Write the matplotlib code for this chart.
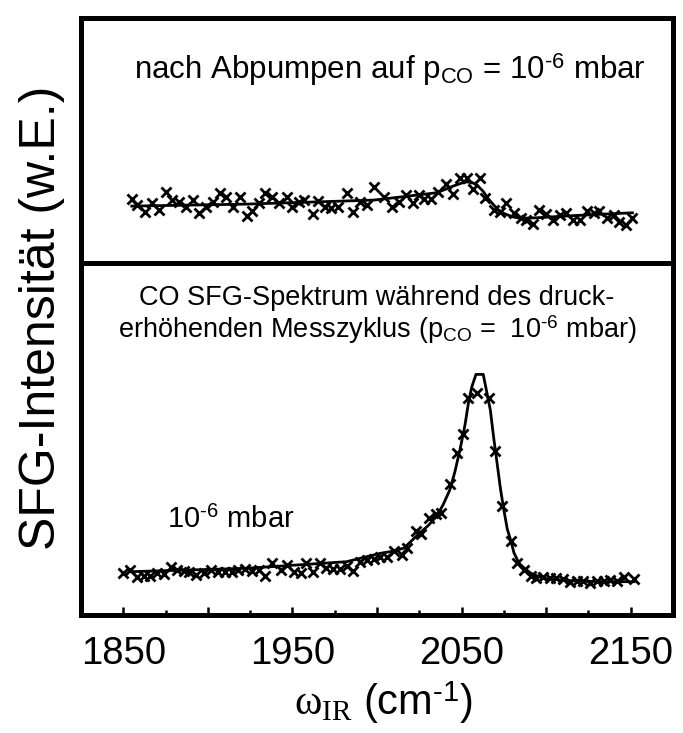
import matplotlib
matplotlib.use('Agg')
from matplotlib import pyplot as plt
from matplotlib.ticker import MultipleLocator, FuncFormatter

plt.rcParams['font.family'] = ['Liberation Sans', 'DejaVu Sans']
plt.rcParams['mathtext.fontset'] = 'custom'
plt.rcParams['mathtext.rm'] = 'Liberation Sans'
plt.rcParams['mathtext.it'] = 'Liberation Serif'

# oben: nach Abpumpen auf 1e-6 mbar
x_oben = [1855, 1858, 1863, 1867, 1871, 1875, 1879, 1883, 1887, 1891, 1895, 1899,
          1903, 1907, 1911, 1915, 1919, 1923, 1926, 1930, 1934, 1938, 1942, 1947,
          1950, 1954, 1957, 1962, 1965, 1969, 1973, 1977, 1982, 1986, 1990, 1994,
          1998, 2004, 2009, 2013, 2017, 2021, 2025, 2028, 2032, 2036, 2041, 2045,
          2049, 2053, 2057, 2061, 2064, 2069, 2073, 2076, 2081, 2085, 2088, 2092,
          2096, 2100, 2104, 2108, 2112, 2116, 2120, 2124, 2128, 2131, 2136, 2140,
          2143, 2147, 2151]
y_oben = [63.7, 58, 51.3, 59.7, 53, 70.7, 63, 61.3, 56.3, 63, 50.3, 56.3,
          61.3, 70.3, 66.3, 55.7, 66.3, 47.3, 52.3, 59.7, 69.7, 66.3, 59.7, 65.7,
          56.3, 61.3, 63, 48.7, 62.3, 56.3, 54.7, 56.3, 69.7, 51.3, 61.3, 58,
          75.7, 66.3, 55.7, 60.7, 68, 60.3, 68, 63.7, 63.7, 71.3, 78.7, 68.7,
          84.7, 84.7, 73.7, 84.7, 64.7, 53, 51.3, 59.7, 49.7, 44.7, 43, 39,
          53, 49, 43, 48, 50.3, 43, 43, 52, 49.7, 52.3, 44.7, 48,
          41.3, 38, 44.7]
fit_x_oben = [1855, 1923, 1998, 2015, 2035, 2040, 2045, 2050, 2053, 2057, 2060,
              2063, 2065, 2069, 2072, 2075, 2080, 2083, 2088, 2094, 2114, 2134, 2151]
fit_y_oben = [57, 59, 63, 66.3, 70.3, 73.5, 77, 80, 81.3, 80, 76.5,
              71.3, 66, 58, 53, 49.7, 46.3, 45.3, 45, 45.3, 47.3, 49, 50.3]

# unten: während des druckerhöhenden Messzyklus
x_unten = [1850, 1854, 1858, 1862, 1866, 1870, 1874, 1878, 1882, 1886, 1889, 1893,
           1898, 1902, 1906, 1910, 1914, 1918, 1922, 1926, 1930, 1934, 1938, 1943,
           1947, 1951, 1955, 1958, 1962, 1966, 1970, 1974, 1978, 1982, 1986, 1990,
           1994, 1998, 2002, 2006, 2010, 2015, 2018, 2023, 2026, 2031, 2035, 2038,
           2043, 2047, 2051, 2054, 2059, 2066, 2070, 2074, 2079, 2083, 2087, 2091,
           2094, 2098, 2102, 2106, 2110, 2114, 2118, 2122, 2126, 2130, 2134, 2138,
           2142, 2146, 2152]
y_unten = [41.7, 45, 38.3, 39, 39, 42.3, 41, 48.3, 45, 44.3, 43.3, 40,
           41.7, 45, 43.3, 43.3, 43.3, 45, 45.7, 44.3, 45, 39, 51.7, 45,
           50, 43.3, 41.7, 51.7, 43.3, 51.7, 46.7, 45.7, 45.7, 49, 44.3, 53.3,
           55, 55.7, 57.7, 58.3, 64.3, 60, 66.7, 84, 80.7, 96.7, 100.7, 102.3,
           131, 161.7, 180.7, 216.7, 222.3, 216.7, 164, 109, 74.3, 52.3, 45, 39,
           36.7, 37.7, 36.7, 36.7, 35.7, 33.3, 34.3, 34.3, 31.7, 34.3, 34.3, 35,
           34.3, 37.7, 35.7]
fit_x_unten = [1854, 1923, 1982, 2002, 2010, 2016, 2025, 2030, 2035, 2039, 2043,
               2046, 2049, 2052, 2054, 2056, 2058.5, 2062.8, 2065, 2067, 2069,
               2071, 2073, 2075, 2077, 2079, 2081, 2084, 2087, 2091, 2098, 2114,
               2134, 2152]
fit_y_unten = [43.3, 46.7, 53.3, 61.7, 64, 67, 81.7, 89, 98.3, 110, 125,
               143, 165, 190, 211.7, 228, 240.7, 240.7, 222, 205, 177,
               151.7, 126, 105, 86, 75, 62, 51.7, 47, 41.7, 36.7, 34.3,
               33.3, 33.3]

hy = '\u2010'  # kurzer Bindestrich im Exponenten

fig = plt.figure(figsize=(6.83, 7.33), dpi=100)
ax1 = fig.add_axes([0.1186, 0.641, 0.8668, 0.3345])
ax2 = fig.add_axes([0.1186, 0.161, 0.8668, 0.480])

for ax in (ax1, ax2):
    ax.set_xlim(1825, 2175)
    ax.set_yticks([])
    for s in ax.spines.values():
        s.set_linewidth(3.6)

ax1.plot(x_oben, y_oben, 'x', color='black', ms=7.5, mew=2)
ax1.plot(fit_x_oben, fit_y_oben, '-', color='black', lw=2)
ax1.set_ylim(0, 245)
ax1.set_xticks([])

ax2.plot(x_unten, y_unten, 'x', color='black', ms=7.5, mew=2)
ax2.plot(fit_x_unten, fit_y_unten, '-', color='black', lw=2)
ax2.set_ylim(0, 352)

ax2.xaxis.set_major_locator(MultipleLocator(50))
ax2.xaxis.set_minor_locator(MultipleLocator(25))
ax2.xaxis.set_major_formatter(FuncFormatter(lambda v, p: '%d' % v if int(v) % 100 == 50 else ''))
ax2.tick_params(axis='x', which='major', direction='in', length=5.5, width=1.8,
                labelsize=27.5, pad=15)
ax2.tick_params(axis='x', which='minor', direction='in', length=3.5, width=1.8)

ax1.text(0.522, 0.79, r'nach Abpumpen auf p$_{\mathrm{CO}}$ = 10$^{\mathrm{%s6}}$ mbar' % hy,
         transform=ax1.transAxes, ha='center', va='center', fontsize=22.5)
ax2.text(0.5, 0.90, 'CO SFG-Spektrum während des druck-',
         transform=ax2.transAxes, ha='center', va='center', fontsize=19.5)
ax2.text(0.5, 0.81, r'erhöhenden Messzyklus (p$_{\mathrm{CO}}$ =  10$^{\mathrm{%s6}}$ mbar)' % hy,
         transform=ax2.transAxes, ha='center', va='center', fontsize=19.5)
ax2.text(0.145, 0.27, r'10$^{\mathrm{%s6}}$ mbar' % hy, transform=ax2.transAxes,
         ha='left', va='center', fontsize=21)

fig.text(42 / 683, 1 - 318 / 733, 'SFG-Intensität (w.E.)', rotation=90,
         ha='center', va='center', fontsize=36)
fig.text(383 / 683, 1 - 703 / 733, r'$\omega_{IR}$ (cm$^{\mathrm{%s1}}$)' % hy,
         ha='center', va='center', fontsize=30)

fig.savefig('out.png', dpi=100)
